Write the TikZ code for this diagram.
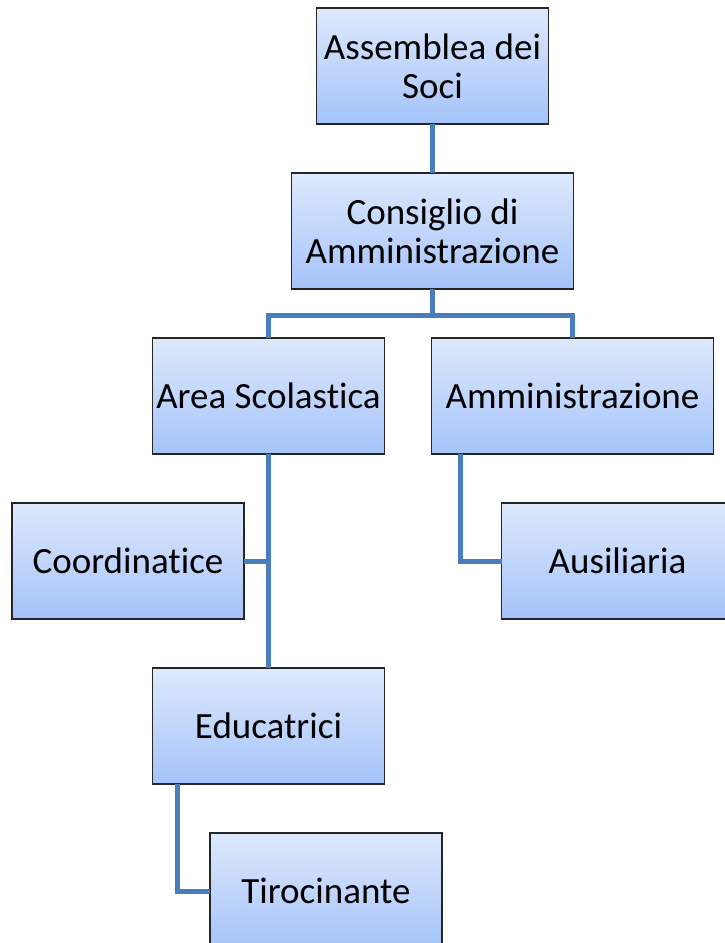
\documentclass[tikz,border=0pt]{standalone}
\usepackage{fontspec}
\setmainfont[Ligatures=NoCommon]{Carlito}
\usetikzlibrary{positioning}

\definecolor{boxtop}{RGB}{222,233,252}
\definecolor{boxbot}{RGB}{164,195,250}
\definecolor{linkblue}{RGB}{74,126,187}

\tikzset{
  unit/.style={draw=black!85, line width=1.5pt, top color=boxtop, bottom color=boxbot,
    minimum width=232pt, minimum height=116pt, align=center, inner sep=2pt, outer sep=0pt,
    font=\fontsize{37pt}{39pt}\selectfont},
  wideunit/.style={unit, minimum width=282pt},
  link/.style={draw=linkblue, line width=5pt}
}

\begin{document}
\begin{tikzpicture}[x=1pt,y=1pt,node distance=49pt]
\useasboundingbox (0,0) rectangle (724,-943);

\node[unit] (asm) at (432.5,-66) {Assemblea dei\\Soci};
\node[wideunit] (cda) [below=of asm] {Consiglio di\\Amministrazione};
\node[unit] (area) [below=of cda, xshift=-164pt] {Area Scolastica};
\node[wideunit] (amm) [right=47pt of area] {Amministrazione};
\node[unit] (coord) [below=of area, xshift=-140.5pt] {Coordinatice};
\node[unit] (aus) [below=of amm, xshift=45pt] {Ausiliaria};
\node[unit] (edu) [below=214pt of area] {Educatrici};
\node[unit] (tir) [below=of edu, xshift=57.5pt] {Tirocinante};

\begin{scope}[on background layer/.try]
\draw[link] (asm) -- (cda);
\draw[link] (cda.south) -- ++(0,-26) -| (area.north);
\draw[link] (cda.south) -- ++(0,-26) -| (amm.north);
\draw[link] (area.south) -- (edu.north);
\draw[link] (coord.east) -- (coord.east -| area.south);
\draw[link] ([xshift=29pt]amm.south west) |- (aus.west);
\draw[link] ([xshift=25pt]edu.south west) |- (tir.west);
\end{scope}
\end{tikzpicture}
\end{document}
